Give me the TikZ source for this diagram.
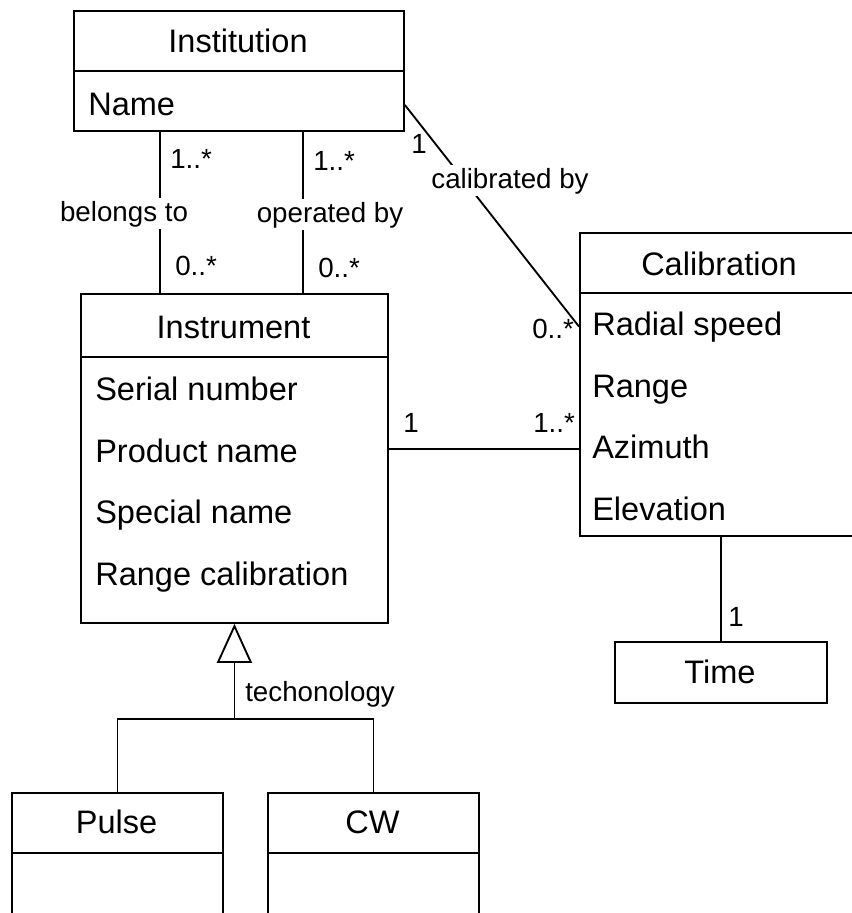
\documentclass[tikz,border=0pt]{standalone}
\usepackage{fontspec}
\setmainfont{Liberation Sans}
\usetikzlibrary{arrows.meta,calc}

\tikzset{
  classbox/.style={draw, line width=1.4pt, inner sep=0pt, anchor=north west},
  divider/.style={line width=1.4pt},
  conn/.style={line width=1.4pt},
  clstext/.style={inner sep=0pt, font=\fontsize{24.4}{29}\selectfont},
  lbl/.style={inner sep=0pt, font=\fontsize{20.8}{25}\selectfont},
  edgelbl/.style={lbl, fill=white, inner sep=2pt},
}

\begin{document}
\begin{tikzpicture}[x=0.75pt,y=-0.75pt]
\useasboundingbox (0,0) rectangle (852,913);
\clip (0,0) rectangle (852,913);

% ---- Institution ----
\node[classbox, minimum width=247.5pt, minimum height=90pt] (inst) at (73,10) {};
\draw[divider] ([yshift=-45.75pt]inst.north west) -- ([yshift=-45.75pt]inst.north east);
\node[clstext, anchor=base] (insttitle) at (238,53) {Institution};
\node[clstext, anchor=base west] (instname) at (88,116) {Name};

% ---- Instrument ----
\node[classbox, minimum width=230.25pt, minimum height=246.75pt] (instr) at (80,293) {};
\draw[divider] ([yshift=-48pt]instr.north west) -- ([yshift=-48pt]instr.north east);
\node[clstext, anchor=base] (instrtitle) at (233.5,338) {Instrument};
\node[clstext, anchor=base west] (serial) at (95,400) {Serial number};
\node[clstext, anchor=base west] (product) at (95,462) {Product name};
\node[clstext, anchor=base west] (special) at (95,523) {Special name};
\node[clstext, anchor=base west] (rangecal) at (95,585) {Range calibration};

% ---- Calibration ----
\node[classbox, minimum width=212.25pt, minimum height=227.25pt] (cal) at (579,232) {};
\draw[divider] ([yshift=-45.75pt]cal.north west) -- ([yshift=-45.75pt]cal.north east);
\node[clstext, anchor=base] (caltitle) at (719,275) {Calibration};
\node[clstext, anchor=base west] (radial) at (592,335) {Radial speed};
\node[clstext, anchor=base west] (range) at (592,397) {Range};
\node[clstext, anchor=base west] (azimuth) at (592,458) {Azimuth};
\node[clstext, anchor=base west] (elev) at (592,520) {Elevation};

% ---- Time ----
\node[classbox, minimum width=159pt, minimum height=45.75pt] (time) at (614,641) {};
\node[clstext, anchor=base] (timetitle) at (720,683) {Time};

% ---- Pulse / CW ----
\node[classbox, minimum width=158.25pt, minimum height=105pt] (pulse) at (11,792) {};
\draw[divider] ([yshift=-45.75pt]pulse.north west) -- ([yshift=-45.75pt]pulse.north east);
\node[clstext, anchor=base] (pulsetitle) at (116.5,833) {Pulse};

\node[classbox, minimum width=158.25pt, minimum height=105pt] (cw) at (267,792) {};
\draw[divider] ([yshift=-45.75pt]cw.north west) -- ([yshift=-45.75pt]cw.north east);
\node[clstext, anchor=base] (cwtitle) at (372.5,833) {CW};

% ---- Institution -- Instrument associations ----
\draw[conn] ([xshift=65.25pt]inst.south west) -- ([xshift=60pt]instr.north west);
\draw[conn] ([xshift=172.5pt]inst.south west) -- ([xshift=167.25pt]instr.north west);
\node[edgelbl, anchor=base] (belongs) at (124,221) {belongs to};
\node[edgelbl, anchor=base] (operated) at (330,222) {operated by};
\node[lbl, anchor=base west] (m1) at (170,168) {1..*};
\node[lbl, anchor=base west] (m2) at (175,275) {0..*};
\node[lbl, anchor=base west] (m3) at (313,171) {1..*};
\node[lbl, anchor=base west] (m4) at (318,277) {0..*};

% ---- Institution -- Calibration ----
\draw[conn] (inst.east |- instname) -- (cal.west |- radial);
\node[edgelbl, anchor=base] (calby) at (510,188) {calibrated by};
\node[lbl, anchor=base west] (m5) at (411,153) {1};
\node[lbl, anchor=base west] (m6) at (532,338) {0..*};

% ---- Instrument -- Calibration ----
\draw[conn] ([yshift=-2pt]instr.east |- azimuth) -- ([yshift=-2pt]cal.west |- azimuth);
\node[lbl, anchor=base west] (m7) at (403,432) {1};
\node[lbl, anchor=base west] (m8) at (533,432) {1..*};

% ---- Calibration -- Time ----
\draw[conn] (time.north |- cal.south) -- (time.north);
\node[lbl, anchor=base west] (m9) at (728,626) {1};

% ---- Generalization ----
\coordinate (gen) at ([yshift=-71.25pt]instr.south);
\draw[conn] (pulse.north) |- (gen) -| (cw.north);
\draw[conn, -{Triangle[open, length=29.25pt, width=26.25pt, line width=1.4pt]}] (gen) -- (instr.south);
\node[lbl, anchor=base west] (tech) at (245,701) {techonology};

\end{tikzpicture}
\end{document}
